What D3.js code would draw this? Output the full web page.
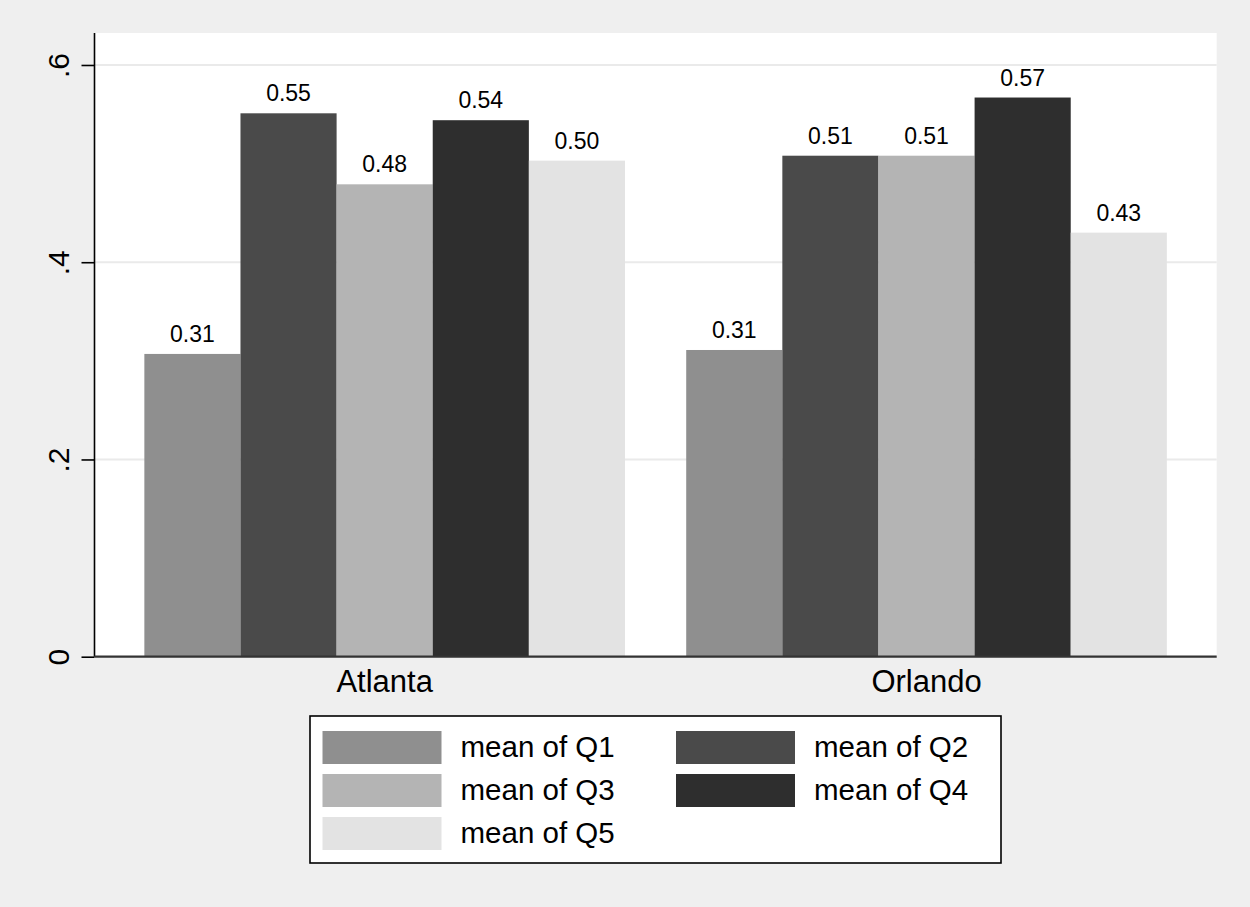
<!DOCTYPE html>
<html>
<head>
<meta charset="utf-8">
<script src="https://cdn.jsdelivr.net/npm/d3@7"></script>
<style>
  html, body { margin: 0; padding: 0; background: #efefef; }
  svg { display: block; }
  text { font-family: "Liberation Sans", Arial, Helvetica, sans-serif; fill: #000; }
</style>
</head>
<body>
<svg id="chart" width="1250" height="907"></svg>
<script>
// ---- Data ----
const categories = ["Atlanta", "Orlando"];
const seriesNames = ["mean of Q1", "mean of Q2", "mean of Q3", "mean of Q4", "mean of Q5"];
const atlantaValues = [0.307, 0.551, 0.479, 0.544, 0.503];
const orlandoValues = [0.311, 0.508, 0.508, 0.567, 0.430];
const yTickValues = [0, 0.2, 0.4, 0.6];
const yTickLabels = ["0", ".2", ".4", ".6"];
const seriesColors = ["#8f8f8f", "#4a4a4a", "#b4b4b4", "#2e2e2e", "#e3e3e3"];

const valuesByCategory = { "Atlanta": atlantaValues, "Orlando": orlandoValues };

// ---- Layout ----
const svg = d3.select("#chart");
const W = 1250, H = 907;
const plot = { left: 94.5, right: 1216.7, top: 33, bottom: 656.7 };

svg.append("rect").attr("x", 0).attr("y", 0).attr("width", W).attr("height", H).attr("fill", "#efefef");
svg.append("rect")
  .attr("x", plot.left).attr("y", plot.top)
  .attr("width", plot.right - plot.left).attr("height", plot.bottom - plot.top)
  .attr("fill", "#ffffff");

const y = d3.scaleLinear()
  .domain([0, (plot.bottom - plot.top) / 986.2])
  .range([plot.bottom, plot.top]);

const x0 = d3.scaleBand()
  .domain(categories)
  .range([plot.left, plot.right])
  .paddingInner(0.113)
  .paddingOuter(0.092);

const x1 = d3.scaleBand()
  .domain(seriesNames)
  .range([0, x0.bandwidth()])
  .padding(0);

const color = d3.scaleOrdinal().domain(seriesNames).range(seriesColors);

// gridlines
svg.append("g")
  .selectAll("line")
  .data(yTickValues.filter(v => v > 0))
  .join("line")
  .attr("x1", plot.left).attr("x2", plot.right)
  .attr("y1", d => y(d)).attr("y2", d => y(d))
  .attr("stroke", "#eaeaea").attr("stroke-width", 2);

// bars
const groups = svg.append("g")
  .selectAll("g")
  .data(categories)
  .join("g")
  .attr("transform", d => `translate(${x0(d)},0)`);

groups.selectAll("rect")
  .data(c => seriesNames.map((s, i) => ({ s, v: valuesByCategory[c][i] })))
  .join("rect")
  .attr("x", d => x1(d.s))
  .attr("y", d => y(d.v))
  .attr("width", x1.bandwidth())
  .attr("height", d => y(0) - y(d.v))
  .attr("fill", d => color(d.s));

groups.selectAll("text")
  .data(c => seriesNames.map((s, i) => ({ s, v: valuesByCategory[c][i] })))
  .join("text")
  .attr("x", d => x1(d.s) + x1.bandwidth() / 2)
  .attr("y", d => y(d.v) - 12)
  .attr("text-anchor", "middle")
  .attr("font-size", 23)
  .text(d => d.v.toFixed(2));

// y axis
const yAxis = svg.append("g")
  .attr("transform", `translate(${plot.left},0)`)
  .call(d3.axisLeft(y).tickValues(yTickValues).tickSize(13).tickSizeOuter(0)
    .tickFormat((d, i) => yTickLabels[i]));
yAxis.select(".domain").attr("stroke", "#000").attr("stroke-width", 1.6)
  .attr("d", `M0,${plot.bottom}V${plot.top}`);
yAxis.selectAll(".tick line").attr("stroke", "#000").attr("stroke-width", 1.6);
yAxis.selectAll(".tick text")
  .attr("font-size", 30)
  .attr("font-family", "Liberation Sans, Arial, sans-serif")
  .attr("fill", "#000")
  .attr("x", null).attr("dy", null)
  .attr("text-anchor", "middle")
  .attr("transform", "translate(-26,0) rotate(-90)");

// x axis line
svg.append("line")
  .attr("x1", plot.left).attr("x2", plot.right)
  .attr("y1", plot.bottom).attr("y2", plot.bottom)
  .attr("stroke", "#333").attr("stroke-width", 2.2);

// category labels
const xAxis = svg.append("g")
  .attr("transform", `translate(0,${plot.bottom})`)
  .call(d3.axisBottom(x0).tickSize(0).tickPadding(0));
xAxis.select(".domain").remove();
xAxis.selectAll(".tick text")
  .attr("font-size", 31)
  .attr("font-family", "Liberation Sans, Arial, sans-serif")
  .attr("fill", "#000")
  .attr("dy", null)
  .attr("y", 35);

// legend
const legend = svg.append("g");
legend.append("rect")
  .attr("x", 310).attr("y", 716)
  .attr("width", 691).attr("height", 147)
  .attr("fill", "#fff").attr("stroke", "#000").attr("stroke-width", 1.6);

const legCols = [322.5, 676];
const legRow0 = 731, legRowH = 43;
const items = legend.selectAll("g.item")
  .data(seriesNames)
  .join("g")
  .attr("class", "item")
  .attr("transform", (d, i) => `translate(${legCols[i % 2]},${legRow0 + Math.floor(i / 2) * legRowH})`);
items.append("rect")
  .attr("x", 0).attr("y", 0)
  .attr("width", 119).attr("height", 33)
  .attr("fill", d => color(d));
items.append("text")
  .attr("x", 138).attr("y", 26)
  .attr("font-size", 29.5)
  .text(d => d);
</script>
</body>
</html>
